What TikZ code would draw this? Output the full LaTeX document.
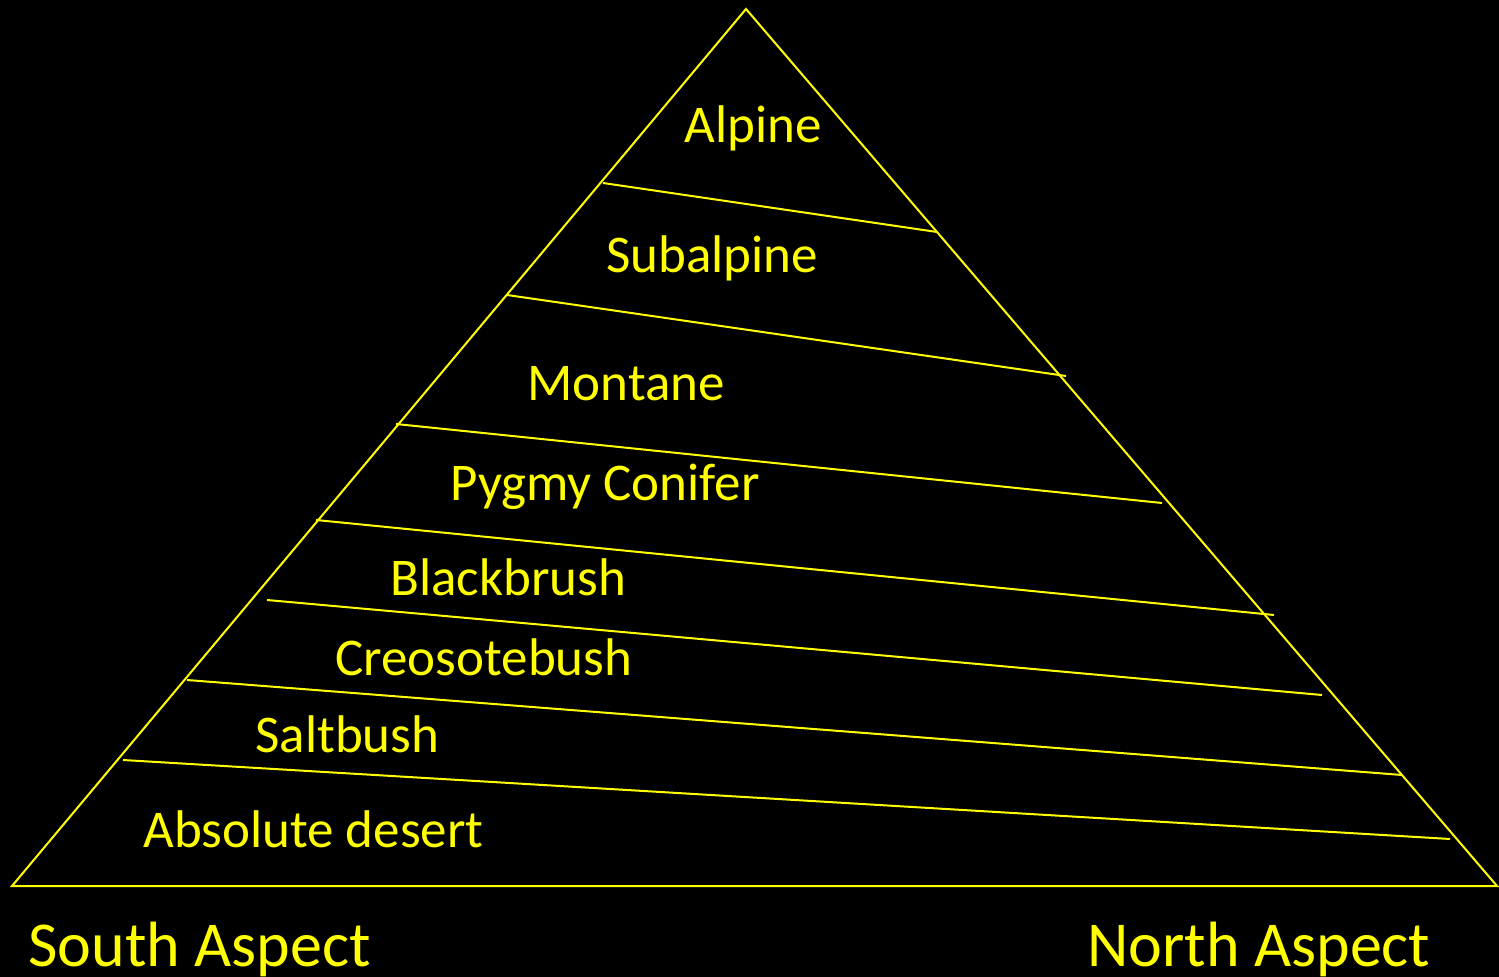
\documentclass[tikz,border=0pt]{standalone}
\usepackage{fontspec}
\setmainfont{Carlito}
\definecolor{zy}{RGB}{255,255,0}
\begin{document}
\begin{tikzpicture}[x=0.5pt,y=-0.5pt,
  edge/.style={draw=zy,line width=1pt},
  band/.style={draw=zy,line width=1pt},
  zlabel/.style={text=zy,font=\fontsize{26.5}{31}\selectfont,anchor=base west,inner sep=0pt},
  alabel/.style={text=zy,font=\fontsize{32}{38}\selectfont,anchor=base west,inner sep=0pt}]
\fill[black] (0,0) rectangle (1499,977);
\useasboundingbox (0,0) rectangle (1499,977);
\coordinate (apex) at (746,9);
\coordinate (bl) at (12,886);
\coordinate (br) at (1497,886);
\draw[edge] (bl) -- (apex) -- (br) -- cycle;
\coordinate (l1) at (603,183);  \coordinate (r1) at (937,232);
\coordinate (l2) at (507,295);  \coordinate (r2) at (1066,376);
\coordinate (l3) at (396,424);  \coordinate (r3) at (1162,503);
\coordinate (l4) at (316,520);  \coordinate (r4) at (1274,615);
\coordinate (l5) at (267,600);  \coordinate (r5) at (1322,695);
\coordinate (l6) at (187,680);  \coordinate (r6) at (1402,775);
\coordinate (l7) at (123,760);  \coordinate (r7) at (1450,839);
\foreach \i in {1,...,7} {\draw[band] (l\i) -- (r\i);}
\node[zlabel] (alpine) at (684,143) {Alpine};
\node[zlabel] (subalpine) at (606,273) {Subalpine};
\node[zlabel] (montane) at (527,401) {Montane};
\node[zlabel] (pygmy) at (450,501) {Pygmy Conifer};
\node[zlabel] (black) at (390,596) {Blackbrush};
\node[zlabel] (creo) at (335,676) {Creosotebush};
\node[zlabel] (salt) at (255,753) {Saltbush};
\node[zlabel] (desert) at (143,848) {Absolute desert};
\node[alabel] (south) at (28,966) {South Aspect};
\node[alabel] (north) at (1087,966) {North Aspect};
\end{tikzpicture}
\end{document}
